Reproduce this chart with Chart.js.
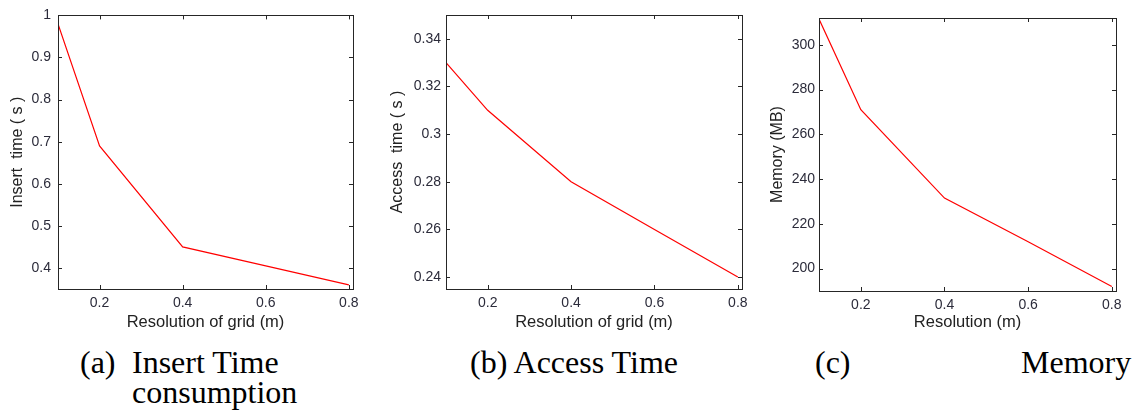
<!DOCTYPE html>
<html>
<head>
<meta charset="utf-8">
<script src="https://cdn.jsdelivr.net/npm/chart.js@4.4.1/dist/chart.umd.min.js"></script>
<style>
  body { margin: 0; background: #fff; width: 1141px; height: 412px; position: relative; overflow: hidden; }
  canvas { position: absolute; top: 0; }
  .cap { position: absolute; font-family: "Liberation Serif", "Times New Roman", serif; font-size: 32px; line-height: 32px; color: #000; white-space: pre; }
</style>
</head>
<body>
<canvas id="chartA" width="370" height="335" style="left:0px"></canvas>
<canvas id="chartB" width="375" height="335" style="left:380px"></canvas>
<canvas id="chartC" width="381" height="335" style="left:760px"></canvas>

<div class="cap" style="left:80px; top:346px">(a)</div>
<div class="cap" style="left:132px; top:346px">Insert Time</div>
<div class="cap" style="left:132px; top:376px">consumption</div>
<div class="cap" style="left:470px; top:346px">(b) Access Time</div>
<div class="cap" style="left:815px; top:346px">(c)</div>
<div class="cap" style="left:1021px; top:346px">Memory</div>

<script>
// values
var resolution = [0.1, 0.2, 0.4, 0.6, 0.8];
var insertTime = [0.98, 0.69, 0.45, 0.405, 0.36];
var accessTime = [0.33, 0.31, 0.28, 0.26, 0.24];
var memory = [311.5, 271, 231.5, 212, 192];

var xTicks = [0.2, 0.4, 0.6, 0.8];
var insertTicks = [0.4, 0.5, 0.6, 0.7, 0.8, 0.9, 1];
var accessTicks = [0.24, 0.26, 0.28, 0.3, 0.32, 0.34];
var memoryTicks = [200, 220, 240, 260, 280, 300];

var axisColor = '#262626';
var labelColor = '#2b2b3a';

// matlab style frame with inward ticks on all four sides
var boxPlugin = {
    id: 'box',
    afterDraw: function(chart) {
        var ctx = chart.ctx, a = chart.chartArea;
        var x = chart.scales.x, y = chart.scales.y;
        ctx.save();
        ctx.strokeStyle = axisColor;
        ctx.lineWidth = 1;
        ctx.strokeRect(Math.round(a.left) + 0.5, Math.round(a.top) + 0.5,
            Math.round(a.right - a.left), Math.round(a.bottom - a.top));
        ctx.beginPath();
        x.ticks.forEach(function(t) {
            var px = Math.round(x.getPixelForValue(t.value)) + 0.5;
            ctx.moveTo(px, a.bottom); ctx.lineTo(px, a.bottom - 4);
            ctx.moveTo(px, a.top); ctx.lineTo(px, a.top + 4);
        });
        y.ticks.forEach(function(t) {
            var py = Math.round(y.getPixelForValue(t.value)) + 0.5;
            ctx.moveTo(a.left, py); ctx.lineTo(a.left + 4, py);
            ctx.moveTo(a.right, py); ctx.lineTo(a.right - 4, py);
        });
        ctx.stroke();
        ctx.restore();
    }
};

function makeChart(id, values, yTicks, yMin, yMax, yTitle, xTitle, yWidth, xHeight, pad, yPad) {
    var pts = resolution.map(function(r, i) { return {x: r, y: values[i]}; });
    return new Chart(document.getElementById(id), {
        type: 'line',
        data: {
            datasets: [{
                data: pts,
                borderColor: '#ff0000',
                borderWidth: 1.2,
                pointRadius: 0,
                tension: 0,
                fill: false
            }]
        },
        options: {
            responsive: false,
            animation: false,
            layout: { padding: pad },
            plugins: { legend: { display: false }, tooltip: { enabled: false } },
            scales: {
                x: {
                    type: 'linear',
                    min: 0.1,
                    max: 0.81,
                    afterBuildTicks: function(s) { s.ticks = xTicks.map(function(v) { return {value: v}; }); },
                    afterFit: function(s) { s.height = xHeight; },
                    grid: { display: false, drawTicks: false, tickLength: 0 },
                    border: { display: false },
                    ticks: {
                        color: labelColor,
                        font: { family: 'Liberation Sans, Arial', size: 14 },
                        padding: 6,
                        maxRotation: 0,
                        callback: function(v) { return String(+v.toFixed(2)); }
                    },
                    title: {
                        display: true,
                        text: xTitle,
                        color: '#222',
                        font: { family: 'Liberation Sans, Arial', size: 16.5 },
                        padding: { top: 0, bottom: 3 }
                    }
                },
                y: {
                    min: yMin,
                    max: yMax,
                    afterBuildTicks: function(s) { s.ticks = yTicks.map(function(v) { return {value: v}; }); },
                    afterFit: function(s) { s.width = yWidth; },
                    grid: { display: false, drawTicks: false, tickLength: 0 },
                    border: { display: false },
                    ticks: {
                        color: labelColor,
                        font: { family: 'Liberation Sans, Arial', size: 14 },
                        padding: yPad,
                        callback: function(v) { return String(+v.toFixed(2)); }
                    },
                    title: {
                        display: true,
                        text: yTitle,
                        color: '#222',
                        font: { family: 'Liberation Sans, Arial', size: 16 },
                        padding: { top: 8, bottom: 0 }
                    }
                }
            }
        },
        plugins: [boxPlugin]
    });
}

makeChart('chartA', insertTime, insertTicks, 0.35, 1.0, 'Insert  time ( s )', 'Resolution of grid (m)',
    58, 46, {top: 15, right: 17, bottom: 0, left: 0}, 7);
makeChart('chartB', accessTime, accessTicks, 0.235, 0.35, 'Access  time ( s )', 'Resolution of grid (m)',
    66, 46, {top: 15, right: 13, bottom: 0, left: 0}, 5);
makeChart('chartC', memory, memoryTicks, 190, 312, 'Memory (MB)', 'Resolution (m)',
    59, 44, {top: 18, right: 25, bottom: 0, left: 0}, 4);
</script>
</body>
</html>
